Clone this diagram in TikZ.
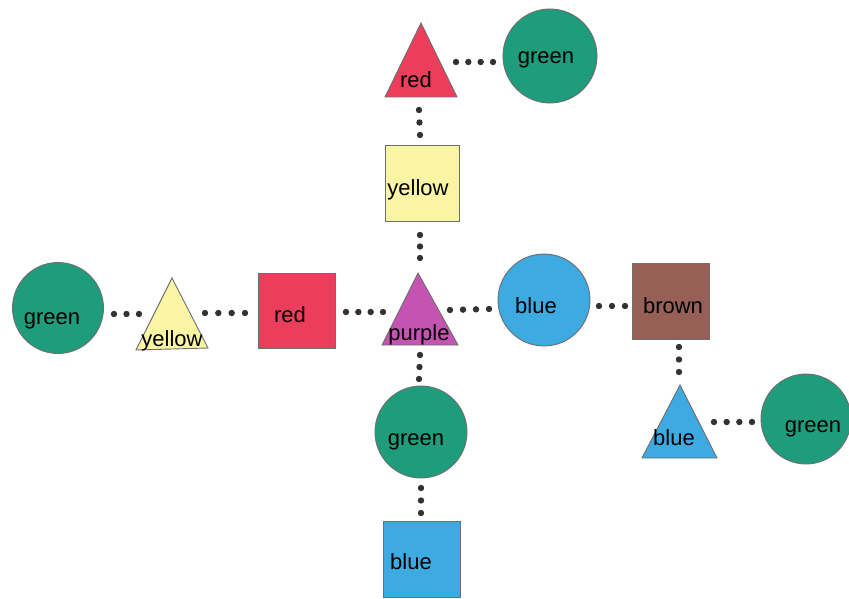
\documentclass[tikz,border=0pt]{standalone}
\usepackage{fontspec}
\setmainfont{Liberation Sans}
\usetikzlibrary{calc}

\definecolor{cgreen}{RGB}{30,156,124}
\definecolor{cred}{RGB}{236,62,92}
\definecolor{cyellow}{RGB}{250,245,165}
\definecolor{cpurple}{RGB}{196,84,178}
\definecolor{cblue}{RGB}{62,170,226}
\definecolor{cbrown}{RGB}{150,96,86}
\definecolor{cdot}{RGB}{50,50,50}
\definecolor{cedge}{RGB}{110,110,110}

\tikzset{
  piece/.style={draw=cedge, line width=0.9pt},
  disc/.style={piece, circle, inner sep=0pt},
  lbl/.style={inner sep=0pt, anchor=base, font=\fontsize{22}{26}\selectfont, text=black},
}

% a row of #3 evenly spaced dots from coordinate #1 to coordinate #2
\newcommand\dotrow[3]{%
  \foreach \k [evaluate=\k as \t using (\k-1)/(#3-1)] in {1,...,#3}
    {\fill[cdot] ($(#1)!\t!(#2)$) circle[radius=3.2pt];}}

\begin{document}
\begin{tikzpicture}[x=1pt,y=-1pt]
\useasboundingbox (0,0) rectangle (849,599);

% circles
\node[disc, fill=cgreen, minimum size=94pt] (gTop)   at (550,56)  {};
\node[disc, fill=cgreen, minimum size=91pt] (gLeft)  at (58,308)  {};
\node[disc, fill=cblue,  minimum size=92pt] (bCirc)  at (544,300) {};
\node[disc, fill=cgreen, minimum size=92pt] (gMid)   at (421,432) {};
\node[disc, fill=cgreen, minimum size=90pt] (gRight) at (806,419) {};

% squares
\draw[piece, fill=cyellow] (385,145) rectangle (459,221);
\draw[piece, fill=cred]    (258,273) rectangle (335,348);
\draw[piece, fill=cbrown]  (632,263) rectangle (709,339);
\draw[piece, fill=cblue]   (383,521) rectangle (460,597);

% triangles
\draw[piece, fill=cred]    (421,23)  -- (385,97)  -- (457,97)  -- cycle;
\draw[piece, fill=cpurple] (418,273) -- (382,345) -- (458,345) -- cycle;
\draw[piece, fill=cyellow] (172,278) -- (136,350) -- (208,348) -- cycle;
\draw[piece, fill=cblue]   (680,385) -- (642,458) -- (717,458) -- cycle;

% labels (placed by baseline)
\node[lbl] (tgTop)   at (546,64)  {green};
\node[lbl] (tgLeft)  at (52,324)  {green};
\node[lbl] (tbCirc)  at (536,313) {blue};
\node[lbl] (tgMid)   at (416,445) {green};
\node[lbl] (tgRight) at (813,432) {green};
\node[lbl] (tySq)    at (418,196) {yellow};
\node[lbl] (trSq)    at (290,322) {red};
\node[lbl] (tbrSq)   at (673,313) {brown};
\node[lbl] (tbSq)    at (411,569) {blue};
\node[lbl] (trTri)   at (416,88)  {red};
\node[lbl] (tpTri)   at (419,340) {purple};
\node[lbl] (tyTri)   at (172,346) {yellow};
\node[lbl] (tbTri)   at (674,445) {blue};

% dotted links
\coordinate (l1a) at (456,62);  \coordinate (l1b) at (493,62);
\coordinate (l2a) at (419,110); \coordinate (l2b) at (420,135);
\coordinate (l3a) at (420,235); \coordinate (l3b) at (420,258);
\coordinate (l4a) at (114,314); \coordinate (l4b) at (139,314);
\coordinate (l5a) at (205,313); \coordinate (l5b) at (245,313);
\coordinate (l6a) at (346,312); \coordinate (l6b) at (383,312);
\coordinate (l7a) at (450,310); \coordinate (l7b) at (489,309);
\coordinate (l8a) at (599,306); \coordinate (l8b) at (625,306);
\coordinate (l9a) at (679,347); \coordinate (l9b) at (679,372);
\coordinate (lAa) at (714,422); \coordinate (lAb) at (752,422);
\coordinate (lBa) at (420,355); \coordinate (lBb) at (419,379);
\coordinate (lCa) at (421,488); \coordinate (lCb) at (421,513);

\dotrow{l1a}{l1b}{4}
\dotrow{l2a}{l2b}{3}
\dotrow{l3a}{l3b}{3}
\dotrow{l4a}{l4b}{3}
\dotrow{l5a}{l5b}{4}
\dotrow{l6a}{l6b}{4}
\dotrow{l7a}{l7b}{4}
\dotrow{l8a}{l8b}{3}
\dotrow{l9a}{l9b}{3}
\dotrow{lAa}{lAb}{4}
\dotrow{lBa}{lBb}{3}
\dotrow{lCa}{lCb}{3}
\end{tikzpicture}
\end{document}
